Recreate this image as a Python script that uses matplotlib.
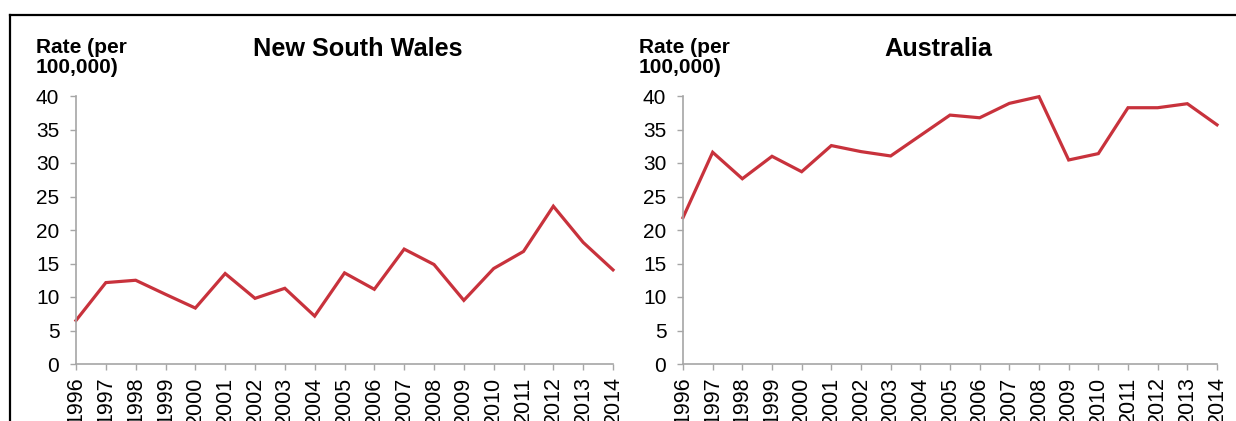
import matplotlib.pyplot as plt
from matplotlib.lines import Line2D

plt.rcParams['font.family'] = ['Liberation Sans', 'DejaVu Sans']

years = list(range(1996, 2015))
nsw = [6.5, 12.15, 12.5, 10.4, 8.35, 13.5, 9.8, 11.3, 7.15, 13.6,
       11.15, 17.15, 14.85, 9.5, 14.25, 16.8, 23.55, 18.15, 14.05]
aus = [21.85, 31.6, 27.65, 31.0, 28.7, 32.6, 31.7, 31.05, 34.1, 37.15,
       36.75, 38.9, 39.9, 30.45, 31.4, 38.25, 38.25, 38.85, 35.7]
titles = ['New South Wales', 'Australia']
ylab = 'Rate (per\n100,000)'

W, H = 1236, 421
fig = plt.figure(figsize=(W / 100, H / 100), dpi=100)

red = '#C8323C'
grey = '#a6a6a6'

def px(x, y):
    return x / W, 1 - y / H

panels = [
    # axes left, right px, title centre x, ylabel x
    (76, 613, 358, 36, nsw, titles[0]),
    (683, 1217, 938, 639, aus, titles[1]),
]
top, bot = 96, 364
for x0, x1, tx, lx, vals, title in panels:
    ax = fig.add_axes([x0 / W, 1 - bot / H, (x1 - x0) / W, (bot - top) / H])
    ax.plot(years, vals, color=red, lw=2.3, clip_on=False, solid_joinstyle='miter')
    ax.set_xlim(1996, 2014)
    ax.set_ylim(0, 40)
    ax.set_xticks(years)
    # labels run past the bottom edge, as in the source image
    ax.set_xticklabels([str(y) for y in years], rotation=90, fontsize=15.5)
    ax.set_yticks(range(0, 41, 5))
    ax.tick_params(axis='y', labelsize=15, length=4, width=1, color=grey, pad=8)
    ax.tick_params(axis='x', length=4, width=1, color=grey, pad=5)
    for s in ['top', 'right']:
        ax.spines[s].set_visible(False)
    for s in ['left', 'bottom']:
        ax.spines[s].set_color(grey)
        ax.spines[s].set_linewidth(1.2)
    fig.text(*px(tx, 56), title, ha='center', va='baseline',
             fontsize=18.2, fontweight='bold')
    fig.text(*px(lx, 38), ylab, ha='left', va='top', fontsize=15,
             fontweight='bold', linespacing=1.08)

# frame around the figure (cut off on right and bottom)
fig.add_artist(Line2D([10 / W, 1], [1 - 15 / H] * 2, color='black', lw=1.6,
                      transform=fig.transFigure))
fig.add_artist(Line2D([10 / W] * 2, [1 - 15 / H, 0], color='black', lw=1.6,
                      transform=fig.transFigure))

fig.savefig('out.png', dpi=100)
